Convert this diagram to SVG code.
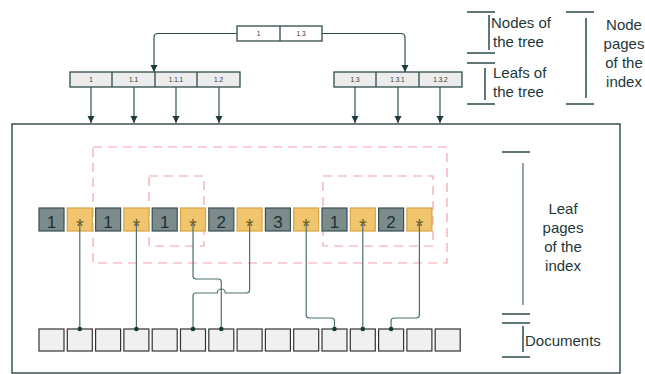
<svg xmlns="http://www.w3.org/2000/svg" width="645" height="374" viewBox="0 0 645 374">
<style>
.tb{fill:#ffffff;stroke:#2f4a4a;stroke-width:1.3}
.lb{fill:#ececec;stroke:#2f4a4a;stroke-width:1.3}
.sm{font-family:"Liberation Sans",Arial,sans-serif;font-size:6.5px;fill:#333;text-anchor:middle}
.dk{fill:#7c8b8c;stroke:#3a4f50;stroke-width:1.2}
.yl{fill:#f0c56e;stroke:#d6a544;stroke-width:1.2}
.dg{font-family:"Liberation Sans",Arial,sans-serif;font-size:17px;fill:#1c3234;text-anchor:middle}
.st{font-family:"Liberation Sans",Arial,sans-serif;font-size:20px;fill:#6b5a2e;text-anchor:middle}
.doc{fill:#f0f0f0;stroke:#333;stroke-width:1.2}
.ann{font-family:"Liberation Sans",Arial,sans-serif;font-size:15px;fill:#1e3838}
.ann2{font-family:"Liberation Sans",Arial,sans-serif;font-size:15px;fill:#1e3838;text-anchor:middle}
.br{stroke:#2e4a4a;stroke-width:1.5;fill:none}
.brl{stroke:#6f8a88;stroke-width:1.5;fill:none}
.cn{fill:none;stroke:#2f4f4f;stroke-width:1.2}
.cl{fill:none;stroke:#4d706e;stroke-width:1.2}
.dash{fill:none;stroke:#f2a2aa;stroke-width:1.2;stroke-dasharray:9 6}
.dot{fill:#17393a}
</style>
<defs>
<marker id="ah" markerWidth="8" markerHeight="8" refX="7" refY="4" orient="auto" markerUnits="userSpaceOnUse">
<path d="M0,0.5 L7,4 L0,7.5 Z" fill="#1f3a3a"/>
</marker>
</defs>
<rect width="645" height="374" fill="#ffffff"/>

<rect id="mainbox" x="12" y="124" width="608" height="249" fill="#ffffff" stroke="#3c5050" stroke-width="1.5"/>

<g id="connectors">
<path class="cn" d="M237 33.5 H158 q-4 0 -4 4 V72" marker-end="url(#ah)"/>
<path class="cn" d="M322 33.5 H401 q4 0 4 4 V72" marker-end="url(#ah)"/>
<path class="cn" d="M91 87 V123" marker-end="url(#ah)"/>
<path class="cn" d="M134 87 V123" marker-end="url(#ah)"/>
<path class="cn" d="M176 87 V123" marker-end="url(#ah)"/>
<path class="cn" d="M219 87 V123" marker-end="url(#ah)"/>
<path class="cn" d="M355 87 V123" marker-end="url(#ah)"/>
<path class="cn" d="M398 87 V123" marker-end="url(#ah)"/>
<path class="cn" d="M440 87 V123" marker-end="url(#ah)"/>
</g>

<g id="top-node">
<rect class="tb" x="237" y="26" width="85" height="15"/>
<line x1="280" y1="26" x2="280" y2="41" stroke="#2f4a4a" stroke-width="1.3"/>
<text class="sm" x="258.5" y="36">1</text>
<text class="sm" x="301" y="36">1.3</text>
</g>

<g id="leaf-left">
<rect class="lb" x="70" y="72" width="170" height="15"/>
<line x1="112" y1="72" x2="112" y2="87" stroke="#2f4a4a" stroke-width="1.3"/>
<line x1="155" y1="72" x2="155" y2="87" stroke="#2f4a4a" stroke-width="1.3"/>
<line x1="197" y1="72" x2="197" y2="87" stroke="#2f4a4a" stroke-width="1.3"/>
<text class="sm" x="91" y="82">1</text>
<text class="sm" x="133.5" y="82">1.1</text>
<text class="sm" x="176" y="82">1.1.1</text>
<text class="sm" x="218.5" y="82">1.2</text>
</g>

<g id="leaf-right">
<rect class="lb" x="334" y="72" width="128" height="15"/>
<line x1="376" y1="72" x2="376" y2="87" stroke="#2f4a4a" stroke-width="1.3"/>
<line x1="419" y1="72" x2="419" y2="87" stroke="#2f4a4a" stroke-width="1.3"/>
<text class="sm" x="355" y="82">1.3</text>
<text class="sm" x="397.5" y="82">1.3.1</text>
<text class="sm" x="440.5" y="82">1.3.2</text>
</g>

<g id="groups">
<rect class="dash" x="93" y="147" width="354" height="116"/>
<rect class="dash" x="149" y="176" width="55" height="70"/>
<rect class="dash" x="323" y="176" width="110" height="70"/>
</g>

<g id="leaf-cells">
<rect class="dk" x="39" y="208" width="25" height="23"/><text class="dg" x="51.5" y="228">1</text>
<rect class="yl" x="67.3" y="208" width="25" height="23"/><text class="st" x="79.8" y="233">*</text>
<rect class="dk" x="95.6" y="208" width="25" height="23"/><text class="dg" x="108.1" y="228">1</text>
<rect class="yl" x="123.9" y="208" width="25" height="23"/><text class="st" x="136.4" y="233">*</text>
<rect class="dk" x="152.2" y="208" width="25" height="23"/><text class="dg" x="164.7" y="228">1</text>
<rect class="yl" x="180.5" y="208" width="25" height="23"/><text class="st" x="193" y="233">*</text>
<rect class="dk" x="208.8" y="208" width="25" height="23"/><text class="dg" x="221.3" y="228">2</text>
<rect class="yl" x="237.1" y="208" width="25" height="23"/><text class="st" x="249.6" y="233">*</text>
<rect class="dk" x="265.4" y="208" width="25" height="23"/><text class="dg" x="277.9" y="228">3</text>
<rect class="yl" x="293.7" y="208" width="25" height="23"/><text class="st" x="306.2" y="233">*</text>
<rect class="dk" x="322" y="208" width="25" height="23"/><text class="dg" x="334.5" y="228">1</text>
<rect class="yl" x="350.3" y="208" width="25" height="23"/><text class="st" x="362.8" y="233">*</text>
<rect class="dk" x="378.6" y="208" width="25" height="23"/><text class="dg" x="391.1" y="228">2</text>
<rect class="yl" x="406.9" y="208" width="25" height="23"/><text class="st" x="419.4" y="233">*</text>
</g>

<g id="documents">
<rect class="doc" x="39" y="329" width="25" height="22"/>
<rect class="doc" x="67.3" y="329" width="25" height="22"/>
<rect class="doc" x="95.6" y="329" width="25" height="22"/>
<rect class="doc" x="123.9" y="329" width="25" height="22"/>
<rect class="doc" x="152.2" y="329" width="25" height="22"/>
<rect class="doc" x="180.5" y="329" width="25" height="22"/>
<rect class="doc" x="208.8" y="329" width="25" height="22"/>
<rect class="doc" x="237.1" y="329" width="25" height="22"/>
<rect class="doc" x="265.4" y="329" width="25" height="22"/>
<rect class="doc" x="293.7" y="329" width="25" height="22"/>
<rect class="doc" x="322" y="329" width="25" height="22"/>
<rect class="doc" x="350.3" y="329" width="25" height="22"/>
<rect class="doc" x="378.6" y="329" width="25" height="22"/>
<rect class="doc" x="406.9" y="329" width="25" height="22"/>
<rect class="doc" x="435.2" y="329" width="25" height="22"/>
</g>

<g id="pointer-connectors">
<path class="cl" d="M79.8 224 V329"/>
<path class="cl" d="M136.4 224 V329"/>
<path class="cl" d="M193 224 V276 q0 3 3 3 H218.3 q3 0 3 3 V329"/>
<path class="cl" d="M249.6 224 V290 q0 3 -3 3 H225.3 A4 4 0 0 0 217.3 293 H196 q-3 0 -3 3 V329"/>
<path class="cl" d="M306.2 224 V315 q0 3 3 3 H331.5 q3 0 3 3 V329"/>
<path class="cl" d="M362.8 224 V329"/>
<path class="cl" d="M419.4 224 V315 q0 3 -3 3 H394.1 q-3 0 -3 3 V329"/>
<circle class="dot" cx="79.8" cy="329" r="2.3"/>
<circle class="dot" cx="136.4" cy="329" r="2.3"/>
<circle class="dot" cx="193" cy="329" r="2.3"/>
<circle class="dot" cx="221.3" cy="329" r="2.3"/>
<circle class="dot" cx="334.5" cy="329" r="2.3"/>
<circle class="dot" cx="362.8" cy="329" r="2.3"/>
<circle class="dot" cx="391.1" cy="329" r="2.3"/>
</g>

<g id="legend-tree">
<path class="br" d="M467 12 H495 M489 15 V50 M467 53 H495"/>
<path class="br" d="M467 63 H495 M485 68 V100 M467 104 H495"/>
<text class="ann" x="491" y="28">Nodes of</text>
<text class="ann" x="493" y="47">the tree</text>
<text class="ann" x="493" y="78">Leafs of</text>
<text class="ann" x="493" y="97">the tree</text>
</g>

<g id="legend-node-pages">
<path class="br" d="M566 12 H594 M586 18 V98 M566 104 H594"/>
<text class="ann2" x="624" y="30">Node</text>
<text class="ann2" x="624" y="49">pages</text>
<text class="ann2" x="624" y="68">of the</text>
<text class="ann2" x="624" y="87">index</text>
</g>

<g id="legend-leaf-pages">
<path class="br" d="M502 152 H530"/>
<path class="brl" d="M523 163 V305"/>
<path class="br" d="M502 314 H530 M502 323 H530"/>
<path class="br" d="M523 326 V352 M502 357 H530"/>
<text class="ann" x="563" y="214" text-anchor="middle">Leaf</text>
<text class="ann" x="563" y="233" text-anchor="middle">pages</text>
<text class="ann" x="563" y="252" text-anchor="middle">of the</text>
<text class="ann" x="563" y="271" text-anchor="middle">index</text>
<text class="ann" x="525" y="346">Documents</text>
</g>
</svg>
